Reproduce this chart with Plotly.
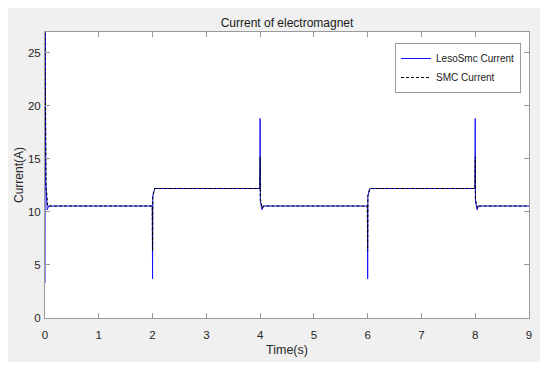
import plotly.graph_objects as go

# ---- data ----
leso_t = [0, 0.003, 0.015, 0.04, 0.07, 1.995, 2.0, 2.004, 2.04, 3.995, 4.0, 4.004, 4.035, 4.06,
          5.995, 6.0, 6.004, 6.04, 7.995, 8.0, 8.004, 8.035, 8.06, 9.0]
leso_i = [3.3, 26.9, 13.0, 10.2, 10.55, 10.55, 3.7, 11.5, 12.2, 12.2, 18.8, 11.0, 10.2, 10.55,
          10.55, 3.7, 11.5, 12.2, 12.2, 18.8, 11.0, 10.2, 10.55, 10.55]

smc_t = [0, 0.02, 0.05, 1.995, 2.0, 2.004, 2.04, 3.995, 4.0, 4.004, 4.04, 4.07,
         5.995, 6.0, 6.004, 6.04, 7.995, 8.0, 8.004, 8.04, 8.07, 9.0]
smc_i = [26.9, 12.5, 10.55, 10.55, 6.3, 11.5, 12.2, 12.2, 15.2, 11.2, 10.35, 10.55,
         10.55, 6.3, 11.5, 12.2, 12.2, 15.2, 11.2, 10.35, 10.55, 10.55]

x_ticks = [0, 1, 2, 3, 4, 5, 6, 7, 8, 9]
y_ticks = [0, 5, 10, 15, 20, 25]

FONT = "Liberation Sans, Arial, Helvetica, sans-serif"
W, H = 532, 354

fig = go.Figure()
fig.add_trace(go.Scatter(x=leso_t, y=leso_i, mode="lines", name="LesoSmc Current",
                         line=dict(color="rgb(20,20,255)", width=1.0)))
fig.add_trace(go.Scatter(x=smc_t, y=smc_i, mode="lines", name="SMC Current",
                         line=dict(color="black", width=1.1, dash="3px,2px")))

axis_common = dict(showgrid=False, zeroline=False, showline=True, linecolor="#9a9a9a", linewidth=1,
                   mirror="ticks", ticks="inside", ticklen=5, tickcolor="#9a9a9a", automargin=False,
                   tickfont=dict(family=FONT, size=11.5, color="#262626"))

fig.update_xaxes(range=[0, 9], tickvals=x_ticks, ticktext=[str(v) for v in x_ticks],
                 ticklabelstandoff=6,
                 title=dict(text="Time(s)", font=dict(family=FONT, size=12.5, color="#262626"), standoff=5),
                 **axis_common)
fig.update_yaxes(range=[0, 26.95], tickvals=y_ticks, ticktext=[str(v) for v in y_ticks],
                 ticklabelstandoff=1,
                 title=dict(text="Current(A)", font=dict(family=FONT, size=12, color="#262626"), standoff=1),
                 **axis_common)

fig.update_layout(
    width=W, height=H,
    margin=dict(l=37, r=11, t=24, b=44),
    paper_bgcolor="#f0f0f0", plot_bgcolor="white",
    title=dict(text="Current of electromagnet", x=0.5, xref="paper", y=1 - 15 / H, yanchor="middle",
               font=dict(family=FONT, size=12, color="#1a1a1a")),
    legend=dict(x=0.9835, xanchor="right", y=0.9615, yanchor="top",
                bgcolor="white", bordercolor="#9a9a9a", borderwidth=1,
                font=dict(family=FONT, size=10, color="#1a1a1a"),
                itemwidth=30, tracegroupgap=0),
    showlegend=True,
)

fig.write_html("out.html")
